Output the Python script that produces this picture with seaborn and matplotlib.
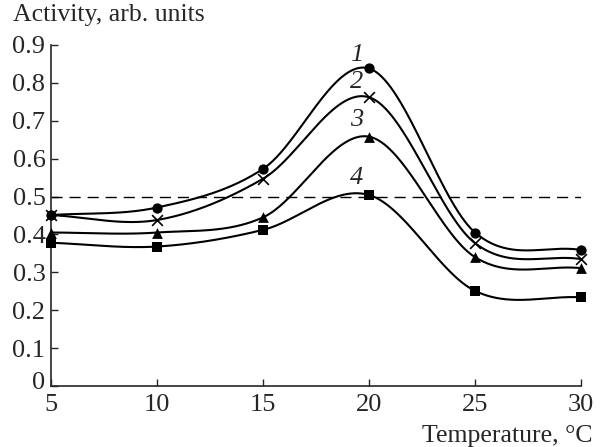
import numpy as np
import pandas as pd
import matplotlib
matplotlib.use("Agg")
import matplotlib.pyplot as plt
import matplotlib.transforms as mtransforms
import seaborn as sns

temperature = [5, 10, 15, 20, 25, 30]
curve1 = [0.451, 0.471, 0.573, 0.838, 0.405, 0.359]
curve2 = [0.451, 0.438, 0.547, 0.762, 0.377, 0.335]
curve3 = [0.405, 0.405, 0.445, 0.658, 0.340, 0.311]
curve4 = [0.378, 0.368, 0.412, 0.504, 0.251, 0.234]
series_names = ["1", "2", "3", "4"]
marker_styles = ["o", "x", "^", "s"]
label_y = [0.874, 0.802, 0.702, 0.549]
x_ticks = [5, 10, 15, 20, 25, 30]
y_ticks = [0, 0.1, 0.2, 0.3, 0.4, 0.5, 0.6, 0.7, 0.8, 0.9]
y_tick_labels = ["0", "0.1", "0.2", "0.3", "0.4", "0.5", "0.6", "0.7", "0.8", "0.9"]
reference_level = 0.5


def smooth_curve(x, y, xs):
    """Cubic Hermite (Catmull-Rom style) curve through the data points."""
    x = np.asarray(x, float)
    y = np.asarray(y, float)
    n = len(x)
    m = np.zeros(n)
    m[0] = (y[1] - y[0]) / (x[1] - x[0])
    m[-1] = (y[-1] - y[-2]) / (x[-1] - x[-2])
    for i in range(1, n - 1):
        m[i] = (y[i + 1] - y[i - 1]) / (x[i + 1] - x[i - 1])
    out = np.empty_like(xs)
    for k, xv in enumerate(xs):
        i = int(np.clip(np.searchsorted(x, xv, side="right") - 1, 0, n - 2))
        h = x[i + 1] - x[i]
        t = (xv - x[i]) / h
        h00 = 2 * t**3 - 3 * t**2 + 1
        h10 = t**3 - 2 * t**2 + t
        h01 = -2 * t**3 + 3 * t**2
        h11 = t**3 - t**2
        out[k] = h00 * y[i] + h10 * h * m[i] + h01 * y[i + 1] + h11 * h * m[i + 1]
    return out


sns.set_style("ticks")
plt.rcParams["font.family"] = ["Liberation Serif", "DejaVu Serif"]

fig = plt.figure(figsize=(6.03, 4.47), dpi=100)
ax = fig.add_axes([0.0846, 0.1365, 0.879, 0.7629])

all_series = [curve1, curve2, curve3, curve4]
xs = np.linspace(temperature[0], temperature[-1], 500)
dense = pd.concat([
    pd.DataFrame({"T": xs, "A": smooth_curve(temperature, vals, xs), "s": name})
    for name, vals in zip(series_names, all_series)
])
pts = pd.concat([
    pd.DataFrame({"T": temperature, "A": vals, "s": name})
    for name, vals in zip(series_names, all_series)
])

sns.lineplot(data=dense, x="T", y="A", units="s", estimator=None, color="black",
             linewidth=1.5, ax=ax, legend=False)
ax.axhline(reference_level, color="black", linewidth=1.0, dashes=(8, 5))
for name, m in zip(series_names, marker_styles):
    sub = pts[pts["s"] == name]
    if m == "x":
        sns.scatterplot(data=sub, x="T", y="A", marker=m, color="black",
                        s=60, linewidth=1.2, ax=ax, legend=False, zorder=5,
                        clip_on=False)
    else:
        sns.scatterplot(data=sub, x="T", y="A", marker=m, color="black",
                        s=55 if m != "^" else 60, linewidth=0, ax=ax,
                        legend=False, zorder=5, clip_on=False)

for name, ly in zip(series_names, label_y):
    ax.text(19.43, ly, name, fontsize=19, style="italic",
            ha="center", va="center")

ax.set_xlim(5, 30)
ax.set_ylim(0, 0.9)
ax.set_xticks(x_ticks)
ax.set_yticks(y_ticks)
ax.set_yticklabels(y_tick_labels)
ax.tick_params(direction="in", length=5, width=1.0, labelsize=19)
ax.tick_params(axis="x", pad=6)
ax.tick_params(axis="y", pad=4)
for sp in ["top", "right"]:
    ax.spines[sp].set_visible(False)
for sp in ["left", "bottom"]:
    ax.spines[sp].set_linewidth(1.2)
ax.set_xlabel("")
ax.set_ylabel("")

# nudge the "0" tick label upward as in the original
zero_lbl = ax.get_yticklabels()[0]
zero_lbl.set_transform(zero_lbl.get_transform()
                       + mtransforms.ScaledTranslation(0, 5 / 100, fig.dpi_scale_trans))

fig.text(0.0216, 0.991, "Activity, arb. units", fontsize=18.5, ha="left", va="top")
fig.text(0.982, 0.011, "Temperature, °C", fontsize=18.5, ha="right", va="baseline")

fig.savefig("out.png", dpi=100)
